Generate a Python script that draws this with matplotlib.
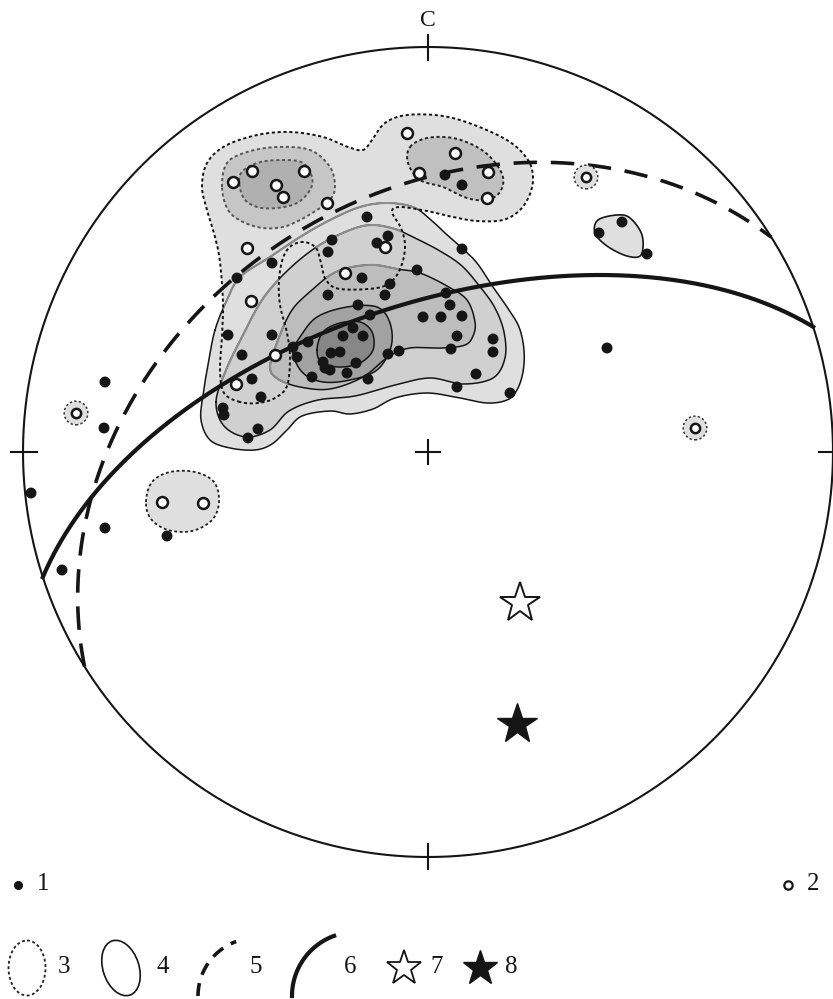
import numpy as np
import matplotlib
matplotlib.use("Agg")
import matplotlib.pyplot as plt
from matplotlib.patches import Polygon, Ellipse

NET_CX, NET_CY, NET_R = 428, 452, 405

# 1: poles (filled)
filled_x = [445, 462, 367, 332, 388, 377, 328, 272, 237, 462, 417, 362, 390, 328, 385, 446, 450, 358,
            423, 441, 462, 370, 228, 272, 343, 353, 363, 308, 293, 297, 340, 331, 323, 325, 356, 347,
            330, 388, 399, 457, 451, 493, 493, 476, 457, 510, 312, 368, 242, 252, 261, 223, 224, 258,
            248, 105, 104, 31, 105, 62, 167, 622, 599, 647, 607]
filled_y = [175, 185, 217, 240, 236, 243, 252, 263, 278, 249, 270, 278, 284, 295, 295, 293, 305, 305,
            317, 317, 316, 315, 335, 335, 336, 328, 336, 342, 347, 357, 352, 353, 362, 368, 363, 373,
            370, 354, 351, 336, 349, 339, 352, 374, 387, 393, 377, 379, 355, 379, 397, 408, 415, 429,
            438, 382, 428, 493, 528, 570, 536, 222, 233, 254, 348]
# 2: poles (open)
open_x = [407, 455, 252, 304, 233, 276, 283, 327, 419, 488, 487, 247, 385, 345, 251, 275, 236, 162, 203]
open_y = [133, 153, 171, 171, 182, 185, 197, 203, 173, 172, 198, 248, 247, 273, 301, 355, 384, 502, 503]
# isolated open poles with their own tiny contour
halo_x = [76, 586, 695]
halo_y = [413, 177, 428]

# 5, 6: great circles (dip direction, dip) -- equal-area lower hemisphere
gc_dashed = (328, 37)
gc_solid = (342, 60)

# 7, 8: stars (pixel frame)
star_open = (520, 603)
star_filled = (517, 724)

# contour outlines (pixel frame)
dot_outer = [(240,402),(224,393),(220,370),(222,337),(223,303),(220,262),(215,237),(207,210),(202,187),
             (207,163),(225,146),(257,135),(290,132),(323,137),(348,147),(363,150),(372,140),(385,123),
             (407,115),(443,116),(477,126),(510,142),(528,160),(533,177),(530,194),(520,210),(503,220),
             (477,221),(453,217),(427,211),(400,207),(392,212),(401,228),(405,245),(402,264),(393,280),
             (377,288),(340,289),(326,280),(321,263),(316,248),(304,242),(291,246),(283,258),(279,280),
             (280,305),(287,333),(290,358),(287,386),(275,398),(258,403)]
dot_tl2 = [(222,187),(227,163),(247,152),(277,147),(310,150),(330,167),(335,187),(330,200),(317,210),
           (300,220),(283,227),(263,228),(243,222),(228,210)]
dot_tl3 = [(240,175),(257,163),(283,160),(303,163),(312,177),(310,190),(297,203),(277,208),(257,207),(243,197)]
dot_tr2 = [(410,147),(427,138),(453,138),(477,147),(493,160),(503,177),(500,192),(487,200),(467,198),
           (443,187),(420,180),(408,163)]
dot_small = [(146,502),(152,482),(170,472),(195,472),(214,482),(219,502),(212,520),(192,531),(168,530),(151,519)]

sol_1 = [(215,330),(227,300),(240,277),(270,257),(300,237),(330,220),(360,207),(387,203),(413,207),(430,219),
         (445,233),(462,248),(477,263),(493,287),(507,307),(519,327),(524,350),(523,372),(517,390),(507,400),
         (487,403),(460,398),(427,393),(395,398),(373,409),(350,414),(330,411),(302,416),(287,430),(272,444),
         (255,450),(230,448),(210,440),(201,420),(203,395),(208,365)]
sol_1b = [(216,402),(224,426),(246,437),(270,430),(289,411),(318,400),(355,396),(395,385),(430,378),
          (463,384),(493,378),(505,358),(504,332),(495,308),(481,288),(462,266),(440,251),(415,238),
          (395,229),(370,225),(345,232),(315,248),(286,272),(262,300),(243,335),(226,370)]
sol_2 = [(270,367),(278,340),(292,310),(312,290),(332,274),(352,267),(375,265),(397,269),(420,273),(447,286),
         (467,300),(475,322),(473,336),(465,345),(443,348),(410,348),(388,357),(363,377),(330,389),(300,387),(278,379)]
sol_3 = [(293,353),(300,337),(317,317),(347,307),(377,307),(390,323),(391,347),(377,370),(350,380),(323,382),(303,373)]
sol_4 = [(317,350),(323,332),(340,323),(360,322),(372,332),(373,350),(360,363),(340,367),(322,363)]
sol_blob = [(598,220),(617,215),(630,218),(642,235),(641,255),(627,256),(607,246),(595,233)]

legend_labels = ["1", "2", "3", "4", "5", "6", "7", "8"]

# ---------------- helpers ----------------
def smooth_closed(pts, n=14):
    P = np.asarray(pts, float)
    N = len(P)
    t = np.linspace(0, 1, n, endpoint=False)[:, None]
    out = []
    for i in range(N):
        p0, p1, p2, p3 = P[i - 1], P[i], P[(i + 1) % N], P[(i + 2) % N]
        out.append(0.5 * ((2 * p1) + (-p0 + p2) * t + (2 * p0 - 5 * p1 + 4 * p2 - p3) * t ** 2
                          + (-p0 + 3 * p1 - 3 * p2 + p3) * t ** 3))
    out = np.vstack(out)
    return np.vstack([out, out[:1]])


def great_circle(dipdir, dip, n=400):
    dd, dp = np.radians(dipdir), np.radians(dip)
    s = np.array([np.sin(dd - np.pi / 2), np.cos(dd - np.pi / 2), 0.0])
    d = np.array([np.sin(dd) * np.cos(dp), np.cos(dd) * np.cos(dp), np.sin(dp)])
    t = np.linspace(0, np.pi, n)
    v = np.outer(np.cos(t), s) + np.outer(np.sin(t), d)
    plunge = np.arcsin(np.clip(v[:, 2], -1, 1))
    trend = np.arctan2(v[:, 0], v[:, 1])
    r = np.sqrt(2) * np.sin((np.pi / 2 - plunge) / 2)
    return NET_CX + NET_R * r * np.sin(trend), NET_CY - NET_R * r * np.cos(trend)


# ---------------- figure ----------------
W, H = 833, 999
fig = plt.figure(figsize=(W / 100, H / 100), dpi=100)
ax = fig.add_axes([0, 0, 1, 1])
ax.set_xlim(0, W)
ax.set_ylim(H, 0)
ax.axis("off")

C1, C1B, C2, C3, C4 = "#dfdfdf", "#d0d0d0", "#bdbdbd", "#a2a2a2", "#878787"
DOT = (0, (1.6, 1.4))
INK = "#151515"

# fills
ax.add_patch(Polygon(smooth_closed(dot_outer), closed=True, fc=C1, ec="none", zorder=1))
ax.add_patch(Polygon(smooth_closed(sol_1), closed=True, fc=C1, ec="none", zorder=1))
ax.add_patch(Polygon(smooth_closed(dot_tl2), closed=True, fc="#c6c6c6", ec="none", zorder=2))
ax.add_patch(Polygon(smooth_closed(dot_tl3), closed=True, fc="#b0b0b0", ec="none", zorder=2))
ax.add_patch(Polygon(smooth_closed(dot_tr2), closed=True, fc="#c0c0c0", ec="none", zorder=2))
ax.add_patch(Polygon(smooth_closed(sol_1b), closed=True, fc=C1B, ec="none", zorder=2))
ax.add_patch(Polygon(smooth_closed(sol_2), closed=True, fc=C2, ec="none", zorder=2))
ax.add_patch(Polygon(smooth_closed(sol_3), closed=True, fc=C3, ec="none", zorder=2))
ax.add_patch(Polygon(smooth_closed(sol_4), closed=True, fc=C4, ec="none", zorder=2))
ax.add_patch(Polygon(smooth_closed(sol_blob), closed=True, fc=C1, ec=INK, lw=1.2, zorder=3))
ax.add_patch(Polygon(smooth_closed(dot_small), closed=True, fc=C1, ec="#222222", lw=1.3, ls=DOT, zorder=3))

# contour lines of the solid family: grey inside the dotted field, black outside
clip = Polygon(smooth_closed(dot_outer), closed=True, transform=ax.transData)
for poly in (sol_1, sol_1b, sol_2):
    xy = smooth_closed(poly)
    ax.plot(xy[:, 0], xy[:, 1], color=INK, lw=1.1, zorder=3.1)
    ln, = ax.plot(xy[:, 0], xy[:, 1], color="#8c8c8c", lw=1.5, zorder=3.2)
    ln.set_clip_path(clip)
for poly in (sol_3, sol_4):
    xy = smooth_closed(poly)
    ax.plot(xy[:, 0], xy[:, 1], color=INK, lw=1.1, zorder=3)

# dotted lines
for poly, col in ((dot_outer, "#111111"), (dot_tl2, "#555555"), (dot_tl3, "#555555"), (dot_tr2, "#222222")):
    xy = smooth_closed(poly)
    ax.plot(xy[:, 0], xy[:, 1], color=col, lw=1.4, ls=DOT, zorder=4)

# primitive circle and ticks
th = np.linspace(0, 2 * np.pi, 720)
ax.plot(NET_CX + NET_R * np.cos(th), NET_CY + NET_R * np.sin(th), color=INK, lw=1.5, zorder=5)
ax.plot([NET_CX, NET_CX], [NET_CY - NET_R - 12, NET_CY - NET_R + 13], color=INK, lw=1.5, zorder=5)
ax.plot([NET_CX, NET_CX], [NET_CY + NET_R - 13, NET_CY + NET_R + 12], color=INK, lw=1.5, zorder=5)
ax.plot([NET_CX - NET_R - 12, NET_CX - NET_R + 14], [NET_CY, NET_CY], color=INK, lw=1.5, zorder=5)
ax.plot([NET_CX + NET_R - 14, NET_CX + NET_R + 12], [NET_CY, NET_CY], color=INK, lw=1.5, zorder=5)
ax.plot([NET_CX - 12, NET_CX + 12], [NET_CY, NET_CY], color=INK, lw=1.5, zorder=5)
ax.plot([NET_CX, NET_CX], [NET_CY - 12, NET_CY + 12], color=INK, lw=1.5, zorder=5)
ax.text(NET_CX, NET_CY - NET_R - 27, "C", ha="center", va="center", fontsize=17,
        family="Liberation Serif", color=INK)

# great circles
gx, gy = great_circle(*gc_dashed)
ax.plot(gx, gy, color=INK, lw=2.6, ls=(0, (6.5, 3.8)), zorder=6, solid_capstyle="butt")
gx, gy = great_circle(*gc_solid)
ax.plot(gx, gy, color=INK, lw=3.0, zorder=6)

# poles
ax.scatter(filled_x, filled_y, s=62, c=INK, edgecolors="none", zorder=7)
ax.scatter(open_x, open_y, s=62, c="white", edgecolors=INK, linewidths=1.8, zorder=7)
ax.scatter(halo_x, halo_y, s=290, c=C1, edgecolors="#333333", linewidths=1.1, linestyle=(0, (1.5, 1.5)), zorder=7)
ax.scatter(halo_x, halo_y, s=45, c="white", edgecolors=INK, linewidths=1.8, zorder=8)

# stars
ax.plot(*star_open, marker="*", ms=30, mfc="white", mec=INK, mew=1.4, zorder=8)
ax.plot(*star_filled, marker="*", ms=30, mfc=INK, mec=INK, mew=1.0, zorder=8)

# ---------------- legend ----------------
tf = dict(fontsize=18, family="Liberation Serif", color=INK, va="center", ha="center")
ax.plot(18, 885, "o", ms=5.5, color=INK)
ax.text(43, 884, legend_labels[0], **tf)
ax.plot(788, 885, "o", ms=6, mfc="white", mec=INK, mew=1.6)
ax.text(813, 884, legend_labels[1], **tf)

ax.add_patch(Ellipse((27, 968), 37, 55, fc="none", ec="#222222", lw=1.3, ls=DOT))
ax.text(64, 967, legend_labels[2], **tf)
ax.add_patch(Ellipse((121, 968), 36, 57, angle=-18, fc="none", ec=INK, lw=1.2))
ax.text(163, 967, legend_labels[3], **tf)
a = np.linspace(np.radians(180), np.radians(250), 60)
ax.plot(256 + 58 * np.cos(a), 996 + 58 * np.sin(a), color=INK, lw=2.6, ls=(0, (3.6, 2.4)),
        solid_capstyle="butt", dash_capstyle="butt")
ax.text(256, 967, legend_labels[4], **tf)
ax.plot(356 + 64 * np.cos(a), 996 + 64 * np.sin(a), color=INK, lw=3.0)
ax.text(350, 967, legend_labels[5], **tf)
ax.plot(404, 968, marker="*", ms=26, mfc="white", mec=INK, mew=1.3)
ax.text(437, 967, legend_labels[6], **tf)
ax.plot(480, 968, marker="*", ms=26, mfc=INK, mec=INK)
ax.text(511, 967, legend_labels[7], **tf)

fig.savefig("out.png", dpi=100)
